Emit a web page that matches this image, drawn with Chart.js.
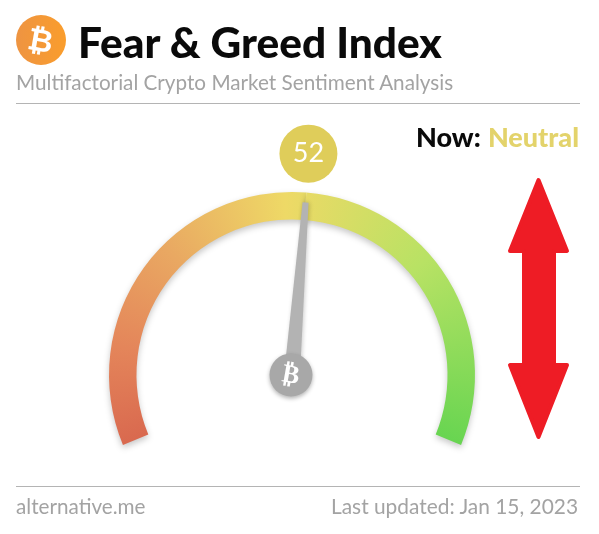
<!DOCTYPE html>
<html>
  <head>
    <meta charset="UTF-8" />
    <title>Fear &amp; Greed Index</title>
    <style>
      html, body { margin: 0; padding: 0; background: #fff; }
      body { position: relative; width: 599px; height: 534px; overflow: hidden; font-family: Lato, sans-serif; }
      #chart { position: absolute; left: 0; top: 0; }
      .abs { position: absolute; white-space: nowrap; line-height: 1; }
      .rule { position: absolute; left: 16px; width: 564px; height: 1px; background: #b4b4b4; }
      #logo {
        position: absolute; left: 16px; top: 15px; width: 50px; height: 50px; border-radius: 50%;
        background: linear-gradient(90deg, #ee9442, #fa9d2c); color: #fff; text-align: center;
        font: bold 31px/50px "DejaVu Sans", sans-serif;
      }
      #logo span { display: inline-block; transform: rotate(10deg); }
    </style>
  </head>
  <body>
    <canvas id="chart" width="599" height="534"></canvas>
    <div id="logo"><span>₿</span></div>
    <div class="abs" id="title" style="left:78px;top:21px;font-size:42.4px;font-weight:900;color:#0a0a0a"></div>
    <div class="abs" id="subtitle" style="left:16px;top:72px;font-size:20.7px;color:#a3a3a3"></div>
    <div class="rule" style="top:103px"></div>
    <div class="abs" id="nowLabel" style="left:416px;top:123px;font-size:27px;font-weight:900;color:#0a0a0a"></div>
    <div class="abs" id="nowValue" style="right:20px;top:123px;font-size:27px;font-weight:900;color:#e3d36b"></div>
    <div class="rule" style="top:486px"></div>
    <div class="abs" id="site" style="left:16px;top:496px;font-size:20.7px;color:#a3a3a3"></div>
    <div class="abs" id="updated" style="right:21px;top:496px;font-size:20.9px;color:#a3a3a3"></div>

    <script src="https://cdn.jsdelivr.net/npm/chart.js"></script>
    <script>
      // Values
      const indexValue = 52;
      const indexMax = 100;
      const gaugeLabels = ['Index', 'Remaining'];
      const gaugeValues = [indexValue, indexMax - indexValue];
      const gradientStops = [0, 0.14, 0.3, 0.49, 0.72, 1];
      const gradientColors = ['#d9694f', '#e4855a', '#e9a862', '#eed966', '#b8e264', '#68d551'];
      const sweep = 225;

      document.getElementById('title').textContent = 'Fear & Greed Index';
      document.getElementById('subtitle').textContent = 'Multifactorial Crypto Market Sentiment Analysis';
      document.getElementById('nowLabel').textContent = 'Now:';
      document.getElementById('nowValue').textContent = 'Neutral';
      document.getElementById('site').textContent = 'alternative.me';
      document.getElementById('updated').textContent = 'Last updated: Jan 15, 2023';

      const rad = (d) => (d * Math.PI) / 180;

      // Conic gradient running along the gauge sweep
      function gaugeGradient(context) {
        const area = context.chart.chartArea;
        if (!area) return gradientColors[0];
        const r = (area.right - area.left) / 2;
        const g = context.chart.ctx.createConicGradient(rad(-90 - sweep / 2), area.left + r, area.top + r);
        gradientStops.forEach((s, i) => g.addColorStop((s * sweep) / 360, gradientColors[i]));
        g.addColorStop(Math.min(1, sweep / 360 + 0.01), gradientColors[gradientColors.length - 1]);
        g.addColorStop(0.99, gradientColors[0]);
        return g;
      }

      const gaugeExtras = {
        id: 'gaugeExtras',
        beforeDatasetsDraw(chart) {
          const c = chart.ctx;
          c.save();
          c.shadowColor = 'rgba(0,0,0,0.22)';
          c.shadowBlur = 6;
          c.shadowOffsetY = 3;
        },
        afterDatasetsDraw(chart) {
          const c = chart.ctx;
          c.restore();
          const arc = chart.getDatasetMeta(0).data[0];
          const cx = arc.x, cy = arc.y;
          const a = rad(-sweep / 2 + (indexValue / indexMax) * sweep);
          const r = arc.outerRadius;

          // needle
          c.save();
          c.translate(cx, cy);
          c.rotate(a);
          c.shadowColor = 'rgba(0,0,0,0.2)';
          c.shadowBlur = 4;
          c.shadowOffsetX = 1;
          c.fillStyle = '#b3b3b3';
          c.beginPath();
          c.moveTo(-8, 0);
          c.lineTo(-3, -r * 0.945);
          c.lineTo(3, -r * 0.945);
          c.lineTo(8, 0);
          c.closePath();
          c.fill();
          c.restore();

          // hub
          c.save();
          c.shadowColor = 'rgba(0,0,0,0.3)';
          c.shadowBlur = 4;
          c.shadowOffsetY = 2;
          c.fillStyle = '#a8a8a8';
          c.beginPath();
          c.arc(cx - 1, cy, 21.5, 0, Math.PI * 2);
          c.fill();
          c.restore();
          c.save();
          c.translate(cx - 1, cy);
          c.rotate(rad(10));
          c.fillStyle = '#fff';
          c.font = 'bold 26px "DejaVu Sans"';
          c.textAlign = 'center';
          c.textBaseline = 'middle';
          c.fillText('₿', 0, 1);
          c.restore();

          // value bubble, along the needle direction
          const bx = cx + Math.sin(a) * 222, by = cy - Math.cos(a) * 222;
          c.fillStyle = '#dfcd5a';
          c.beginPath();
          c.arc(bx - 1, by, 29, 0, Math.PI * 2);
          c.fill();
          c.fillStyle = '#fff';
          c.font = '27px Lato';
          c.textAlign = 'center';
          c.textBaseline = 'middle';
          c.fillText(String(indexValue), bx - 1, by);

          // double arrow
          c.fillStyle = '#ee1c25';
          c.strokeStyle = '#ee1c25';
          c.lineWidth = 4;
          c.lineJoin = 'round';
          c.beginPath();
          c.moveTo(538.5, 180);
          c.lineTo(567, 251);
          c.lineTo(554, 251);
          c.lineTo(554, 365);
          c.lineTo(567, 365);
          c.lineTo(538.5, 437);
          c.lineTo(510, 365);
          c.lineTo(524, 365);
          c.lineTo(524, 251);
          c.lineTo(510, 251);
          c.closePath();
          c.fill();
          c.stroke();
        },
      };

      new Chart(document.getElementById('chart').getContext('2d'), {
        type: 'doughnut',
        data: {
          labels: gaugeLabels,
          datasets: [
            {
              data: gaugeValues,
              backgroundColor: gaugeGradient,
              borderWidth: 0,
              hoverOffset: 0,
            },
          ],
        },
        options: {
          responsive: false,
          animation: false,
          rotation: -sweep / 2,
          circumference: sweep,
          cutout: '85%',
          layout: { padding: { left: 109, right: 124, top: 192, bottom: 89 } },
          plugins: {
            legend: { display: false },
            tooltip: { enabled: false },
          },
        },
        plugins: [gaugeExtras],
      });
    </script>
  </body>
</html>
